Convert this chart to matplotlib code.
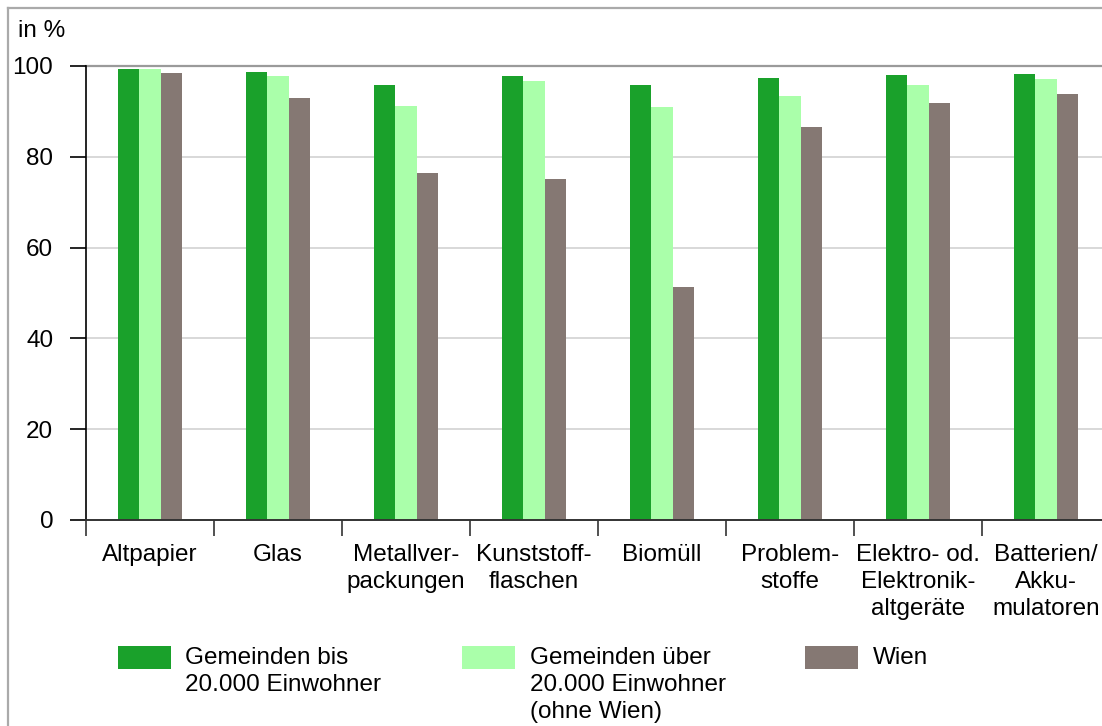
import matplotlib
matplotlib.use("Agg")
import matplotlib.pyplot as plt
from matplotlib.patches import Rectangle
from matplotlib.lines import Line2D
import numpy as np

categories = ["Altpapier", "Glas", "Metallver-\npackungen", "Kunststoff-\nflaschen",
              "Biomüll", "Problem-\nstoffe", "Elektro- od.\nElektronik-\naltgeräte",
              "Batterien/\nAkku-\nmulatoren"]
bis_20000 = [99.3, 98.7, 95.8, 97.8, 95.8, 97.4, 98.1, 98.2]
ueber_20000 = [99.3, 97.8, 91.2, 96.7, 90.9, 93.4, 95.8, 97.1]
wien = [98.5, 93.0, 76.4, 75.1, 51.3, 86.6, 91.9, 93.8]
series_labels = ["Gemeinden bis\n20.000 Einwohner",
                 "Gemeinden über\n20.000 Einwohner\n(ohne Wien)",
                 "Wien"]
series_colors = ["#1aa12b", "#aaffaa", "#857873"]
yticks = [0, 20, 40, 60, 80, 100]

plt.rcParams['font.family'] = ['Liberation Sans', 'DejaVu Sans']
FS = 17.5

W, H = 1102, 726
fig = plt.figure(figsize=(W / 100, H / 100), dpi=100)

def fx(px):
    return px / W

def fy(py):
    return (H - py) / H

ax_left, ax_right, ax_top, ax_bottom = 86, 1110, 66, 520
ax = fig.add_axes([fx(ax_left), fy(ax_bottom), (ax_right - ax_left) / W, (ax_bottom - ax_top) / H])

x = np.arange(len(categories))
bw = 0.165
for i, (vals, col) in enumerate(zip([bis_20000, ueber_20000, wien], series_colors)):
    ax.bar(x + (i - 1) * bw, vals, width=bw, color=col, zorder=3, linewidth=0)

ax.set_xlim(-0.5, len(categories) - 0.5)
ax.set_ylim(0, 100)

# grid
for v in yticks[1:-1]:
    ax.axhline(v, color="#d6d6d6", lw=1.3, zorder=1)
ax.axhline(100, color="#9a9a9a", lw=1.6, zorder=1, clip_on=False)

for s in ["top", "right"]:
    ax.spines[s].set_visible(False)
ax.spines["left"].set_color("black")
ax.spines["left"].set_linewidth(1.2)
ax.spines["bottom"].set_color("#333333")
ax.spines["bottom"].set_linewidth(1.4)
ax.spines["left"].set_zorder(4)
ax.spines["bottom"].set_zorder(4)

ax.set_yticks(yticks)
ax.set_yticklabels([str(v) for v in yticks], fontsize=FS)
ax.tick_params(axis="y", length=11.5, width=1.2, pad=12, color="black")

ax.set_xticks(np.arange(len(categories) + 1) - 0.5)
ax.set_xticklabels([])
ax.tick_params(axis="x", which="major", length=11.5, width=1.2, color="#333333")
ax.set_xticks(x, minor=True)
ax.set_xticklabels(categories, minor=True, fontsize=FS, linespacing=1.32)
ax.tick_params(axis="x", which="minor", length=0, pad=17)

# "in %" label
fig.text(fx(18), fy(37), "in %", fontsize=FS, ha="left", va="baseline")

# outer frame lines
fig.add_artist(Line2D([fx(8), 1], [fy(8), fy(8)], color="#aaaaaa", lw=1.6))
fig.add_artist(Line2D([fx(8), fx(8)], [fy(8), 0], color="#aaaaaa", lw=1.6))

# legend
leg_patch_x = [118, 462, 805]
leg_text_x = [185, 530, 873]
for px, tx, lab, col in zip(leg_patch_x, leg_text_x, series_labels, series_colors):
    fig.add_artist(Rectangle((fx(px), fy(669)), 53 / W, 23 / H, color=col,
                             transform=fig.transFigure, lw=0))
    fig.text(fx(tx), fy(647), lab, fontsize=FS, ha="left", va="top", linespacing=1.3)

fig.savefig("out.png", dpi=100)
